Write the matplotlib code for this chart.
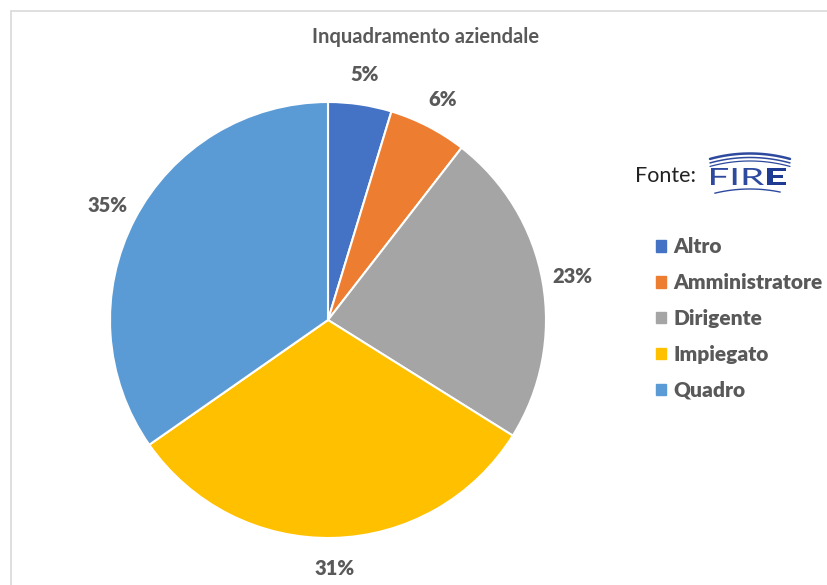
import matplotlib
matplotlib.use("Agg")
import numpy as np
import matplotlib.pyplot as plt
from matplotlib.patches import Patch, Rectangle, PathPatch
from matplotlib.textpath import TextPath
from matplotlib.font_manager import FontProperties
from matplotlib.transforms import Affine2D

categories = ["Altro", "Amministratore", "Dirigente", "Impiegato", "Quadro"]
values = [4.7, 5.8, 23.4, 31.4, 34.7]
colors = ["#4472C4", "#ED7D31", "#A5A5A5", "#FFC000", "#5B9BD5"]
title = "Inquadramento aziendale"

plt.rcParams['font.family'] = ['Lato', 'DejaVu Sans']
TXT = "#595959"

fig = plt.figure(figsize=(8.28, 5.85), dpi=100)
fig.patch.set_facecolor("white")

# outer border
fig.patches.append(Rectangle((11/828, -0.01), 1.02, 1 - 11/585 + 0.01, transform=fig.transFigure,
                             fill=False, edgecolor="#D9D9D9", linewidth=1.2))

ax = fig.add_axes([110/828, (585-538)/585, 436/828, 436/585])
wedges, texts, autotexts = ax.pie(values, colors=colors, startangle=90, counterclock=False,
                                  autopct='%.0f%%', pctdistance=1.14,
                                  wedgeprops=dict(edgecolor="white", linewidth=1.5))
for t in autotexts:
    t.set_fontsize(14.5)
    t.set_fontweight(800)
    t.set_color(TXT)
    t.set_clip_on(False)
ax.set_xlim(-1, 1)
ax.set_ylim(-1, 1)
ax.set_aspect("equal")

fig.text(426/828, 1 - 37/585, title, ha="center", va="center", fontsize=14.5,
         fontweight="bold", color=TXT)

handles = [Patch(facecolor=c, edgecolor=c) for c in colors]
leg = fig.legend(handles, categories, loc="upper left", bbox_to_anchor=(648/828, 1 - 229/585),
                 frameon=False, handlelength=0.48, handleheight=0.48, handletextpad=0.34,
                 labelspacing=0.81, borderaxespad=0, prop=dict(size=15, weight=800))
for t in leg.get_texts():
    t.set_color(TXT)

# Fonte: FIRE logo (decoration), drawn in pixel coordinates
fig.text(635/828, 1 - 176/585, "Fonte:", ha="left", va="center", fontsize=15.5, color="#222222")
lax = fig.add_axes([700/828, 1 - 196/585, 96/828, 52/585])
lax.set_xlim(700, 796)
lax.set_ylim(196, 144)
lax.axis("off")
BLUE = "#2E4A9E"
DARK = "#1F3A93"
xs = np.linspace(710, 790, 80)
R = 150
sag = R - np.sqrt(R**2 - (xs - 750)**2)
for yc, lw in [(153.5, 1.8), (157.5, 1.1), (161.0, 0.9)]:
    lax.plot(xs, yc + sag, color=BLUE, linewidth=lw, solid_capstyle="round")
xb = np.linspace(715, 780, 60)
lax.plot(xb, 189 + (R - np.sqrt(R**2 - (xb - 750)**2)), color=BLUE, linewidth=1.0)


def place(text, weight, box, color):
    tp = TextPath((0, 0), text, size=1, prop=FontProperties(family="Lato", weight=weight))
    ext = tp.get_extents()
    x0, x1, ytop, ybot = box
    sx = (x1 - x0) / ext.width
    sy = (ybot - ytop) / ext.height
    tr = Affine2D().translate(-ext.x0, -ext.y0).scale(sx, -sy).translate(x0, ybot)
    lax.add_patch(PathPatch(tr.transform_path(tp), facecolor=color, edgecolor="none"))


place("FIR", 400, (711, 764, 168, 185), BLUE)
place("E", 900, (767, 786, 168, 185), DARK)

fig.savefig("out.png", dpi=100, facecolor="white")
